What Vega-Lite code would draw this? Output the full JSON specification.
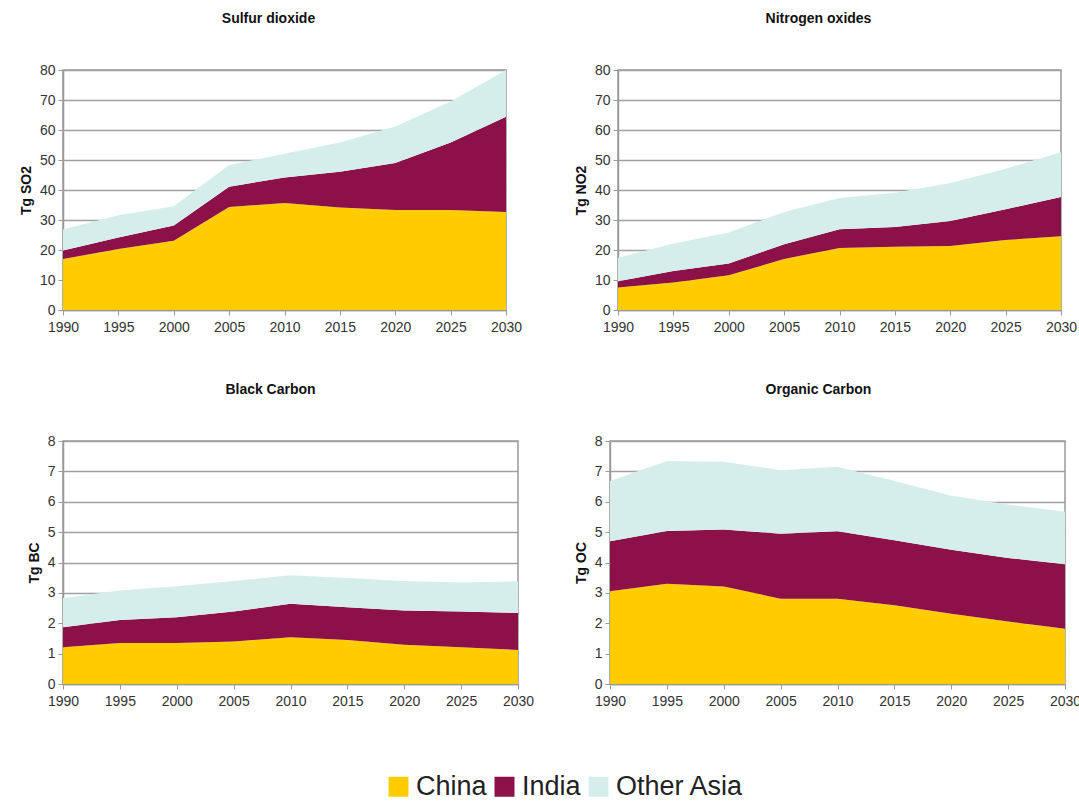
{
  "$schema": "https://vega.github.io/schema/vega-lite/v6.json",
  "background": "white",
  "padding": {"left": 18, "top": 11, "right": 5, "bottom": 5},
  "datasets": {
    "em": [
      {"p": "SO2", "year": 1990, "region": "China", "value": 17.0},
      {"p": "SO2", "year": 1995, "region": "China", "value": 20.3},
      {"p": "SO2", "year": 2000, "region": "China", "value": 23.1},
      {"p": "SO2", "year": 2005, "region": "China", "value": 34.3},
      {"p": "SO2", "year": 2010, "region": "China", "value": 35.7},
      {"p": "SO2", "year": 2015, "region": "China", "value": 34.2},
      {"p": "SO2", "year": 2020, "region": "China", "value": 33.3},
      {"p": "SO2", "year": 2025, "region": "China", "value": 33.3},
      {"p": "SO2", "year": 2030, "region": "China", "value": 32.7},
      {"p": "SO2", "year": 1990, "region": "India", "value": 2.8},
      {"p": "SO2", "year": 1995, "region": "India", "value": 3.9},
      {"p": "SO2", "year": 2000, "region": "India", "value": 5.1},
      {"p": "SO2", "year": 2005, "region": "India", "value": 6.8},
      {"p": "SO2", "year": 2010, "region": "India", "value": 8.5},
      {"p": "SO2", "year": 2015, "region": "India", "value": 11.9},
      {"p": "SO2", "year": 2020, "region": "India", "value": 15.7},
      {"p": "SO2", "year": 2025, "region": "India", "value": 22.5},
      {"p": "SO2", "year": 2030, "region": "India", "value": 31.7},
      {"p": "SO2", "year": 1990, "region": "Other Asia", "value": 7.0},
      {"p": "SO2", "year": 1995, "region": "Other Asia", "value": 7.4},
      {"p": "SO2", "year": 2000, "region": "Other Asia", "value": 6.4},
      {"p": "SO2", "year": 2005, "region": "Other Asia", "value": 7.2},
      {"p": "SO2", "year": 2010, "region": "Other Asia", "value": 7.9},
      {"p": "SO2", "year": 2015, "region": "Other Asia", "value": 9.7},
      {"p": "SO2", "year": 2020, "region": "Other Asia", "value": 12.2},
      {"p": "SO2", "year": 2025, "region": "Other Asia", "value": 13.7},
      {"p": "SO2", "year": 2030, "region": "Other Asia", "value": 15.6},

      {"p": "NO2", "year": 1990, "region": "China", "value": 7.5},
      {"p": "NO2", "year": 1995, "region": "China", "value": 9.2},
      {"p": "NO2", "year": 2000, "region": "China", "value": 11.6},
      {"p": "NO2", "year": 2005, "region": "China", "value": 17.0},
      {"p": "NO2", "year": 2010, "region": "China", "value": 20.7},
      {"p": "NO2", "year": 2015, "region": "China", "value": 21.1},
      {"p": "NO2", "year": 2020, "region": "China", "value": 21.3},
      {"p": "NO2", "year": 2025, "region": "China", "value": 23.3},
      {"p": "NO2", "year": 2030, "region": "China", "value": 24.6},
      {"p": "NO2", "year": 1990, "region": "India", "value": 2.1},
      {"p": "NO2", "year": 1995, "region": "India", "value": 3.8},
      {"p": "NO2", "year": 2000, "region": "India", "value": 3.9},
      {"p": "NO2", "year": 2005, "region": "India", "value": 4.9},
      {"p": "NO2", "year": 2010, "region": "India", "value": 6.2},
      {"p": "NO2", "year": 2015, "region": "India", "value": 6.6},
      {"p": "NO2", "year": 2020, "region": "India", "value": 8.4},
      {"p": "NO2", "year": 2025, "region": "India", "value": 10.3},
      {"p": "NO2", "year": 2030, "region": "India", "value": 13.1},
      {"p": "NO2", "year": 1990, "region": "Other Asia", "value": 7.8},
      {"p": "NO2", "year": 1995, "region": "Other Asia", "value": 9.2},
      {"p": "NO2", "year": 2000, "region": "Other Asia", "value": 10.3},
      {"p": "NO2", "year": 2005, "region": "Other Asia", "value": 10.8},
      {"p": "NO2", "year": 2010, "region": "Other Asia", "value": 10.4},
      {"p": "NO2", "year": 2015, "region": "Other Asia", "value": 11.4},
      {"p": "NO2", "year": 2020, "region": "Other Asia", "value": 12.6},
      {"p": "NO2", "year": 2025, "region": "Other Asia", "value": 13.5},
      {"p": "NO2", "year": 2030, "region": "Other Asia", "value": 14.9},

      {"p": "BC", "year": 1990, "region": "China", "value": 1.21},
      {"p": "BC", "year": 1995, "region": "China", "value": 1.35},
      {"p": "BC", "year": 2000, "region": "China", "value": 1.35},
      {"p": "BC", "year": 2005, "region": "China", "value": 1.40},
      {"p": "BC", "year": 2010, "region": "China", "value": 1.54},
      {"p": "BC", "year": 2015, "region": "China", "value": 1.45},
      {"p": "BC", "year": 2020, "region": "China", "value": 1.29},
      {"p": "BC", "year": 2025, "region": "China", "value": 1.21},
      {"p": "BC", "year": 2030, "region": "China", "value": 1.12},
      {"p": "BC", "year": 1990, "region": "India", "value": 0.66},
      {"p": "BC", "year": 1995, "region": "India", "value": 0.76},
      {"p": "BC", "year": 2000, "region": "India", "value": 0.85},
      {"p": "BC", "year": 2005, "region": "India", "value": 0.99},
      {"p": "BC", "year": 2010, "region": "India", "value": 1.10},
      {"p": "BC", "year": 2015, "region": "India", "value": 1.08},
      {"p": "BC", "year": 2020, "region": "India", "value": 1.13},
      {"p": "BC", "year": 2025, "region": "India", "value": 1.18},
      {"p": "BC", "year": 2030, "region": "India", "value": 1.22},
      {"p": "BC", "year": 1990, "region": "Other Asia", "value": 0.96},
      {"p": "BC", "year": 1995, "region": "Other Asia", "value": 0.97},
      {"p": "BC", "year": 2000, "region": "Other Asia", "value": 1.02},
      {"p": "BC", "year": 2005, "region": "Other Asia", "value": 1.00},
      {"p": "BC", "year": 2010, "region": "Other Asia", "value": 0.94},
      {"p": "BC", "year": 2015, "region": "Other Asia", "value": 0.96},
      {"p": "BC", "year": 2020, "region": "Other Asia", "value": 0.97},
      {"p": "BC", "year": 2025, "region": "Other Asia", "value": 0.95},
      {"p": "BC", "year": 2030, "region": "Other Asia", "value": 1.04},

      {"p": "OC", "year": 1990, "region": "China", "value": 3.05},
      {"p": "OC", "year": 1995, "region": "China", "value": 3.30},
      {"p": "OC", "year": 2000, "region": "China", "value": 3.21},
      {"p": "OC", "year": 2005, "region": "China", "value": 2.81},
      {"p": "OC", "year": 2010, "region": "China", "value": 2.81},
      {"p": "OC", "year": 2015, "region": "China", "value": 2.59},
      {"p": "OC", "year": 2020, "region": "China", "value": 2.31},
      {"p": "OC", "year": 2025, "region": "China", "value": 2.06},
      {"p": "OC", "year": 2030, "region": "China", "value": 1.82},
      {"p": "OC", "year": 1990, "region": "India", "value": 1.65},
      {"p": "OC", "year": 1995, "region": "India", "value": 1.74},
      {"p": "OC", "year": 2000, "region": "India", "value": 1.88},
      {"p": "OC", "year": 2005, "region": "India", "value": 2.14},
      {"p": "OC", "year": 2010, "region": "India", "value": 2.22},
      {"p": "OC", "year": 2015, "region": "India", "value": 2.14},
      {"p": "OC", "year": 2020, "region": "India", "value": 2.11},
      {"p": "OC", "year": 2025, "region": "India", "value": 2.09},
      {"p": "OC", "year": 2030, "region": "India", "value": 2.12},
      {"p": "OC", "year": 1990, "region": "Other Asia", "value": 1.98},
      {"p": "OC", "year": 1995, "region": "Other Asia", "value": 2.30},
      {"p": "OC", "year": 2000, "region": "Other Asia", "value": 2.23},
      {"p": "OC", "year": 2005, "region": "Other Asia", "value": 2.09},
      {"p": "OC", "year": 2010, "region": "Other Asia", "value": 2.12},
      {"p": "OC", "year": 2015, "region": "Other Asia", "value": 1.95},
      {"p": "OC", "year": 2020, "region": "Other Asia", "value": 1.78},
      {"p": "OC", "year": 2025, "region": "Other Asia", "value": 1.76},
      {"p": "OC", "year": 2030, "region": "Other Asia", "value": 1.73}
    ]
  },
  "spacing": 47,
  "vconcat": [
    {
      "bounds": "flush",
      "spacing": 112,
      "hconcat": [
        {
          "width": 443, "height": 240,
          "title": {"text": "Sulfur dioxide", "dx": -16},
          "data": {"name": "em"},
          "transform": [{"filter": "datum.p === 'SO2'"}],
          "mark": {"type": "area", "interpolate": "linear", "clip": true},
          "encoding": {
            "x": {"field": "year", "type": "quantitative", "scale": {"domain": [1990, 2030], "nice": false, "zero": false}, "axis": {"values": [1990,1995,2000,2005,2010,2015,2020,2025,2030], "format": "d", "title": null}},
            "y": {"field": "value", "type": "quantitative", "stack": "zero", "scale": {"domain": [0, 80], "nice": false}, "axis": {"values": [0,10,20,30,40,50,60,70,80], "title": "Tg SO2"}},
            "color": {"field": "region", "type": "nominal", "scale": {"domain": ["China", "India", "Other Asia"], "range": ["#FFCC00", "#8C1148", "#D5EEEC"]}, "legend": {"orient": "none", "legendX": 322, "legendY": 703, "direction": "horizontal", "title": null}},
            "order": {"field": "region", "sort": "ascending"}
          }
        },
        {
          "width": 443, "height": 240,
          "title": {"text": "Nitrogen oxides", "dx": -21},
          "data": {"name": "em"},
          "transform": [{"filter": "datum.p === 'NO2'"}],
          "mark": {"type": "area", "interpolate": "linear", "clip": true},
          "encoding": {
            "x": {"field": "year", "type": "quantitative", "scale": {"domain": [1990, 2030], "nice": false, "zero": false}, "axis": {"values": [1990,1995,2000,2005,2010,2015,2020,2025,2030], "format": "d", "title": null}},
            "y": {"field": "value", "type": "quantitative", "stack": "zero", "scale": {"domain": [0, 80], "nice": false}, "axis": {"values": [0,10,20,30,40,50,60,70,80], "title": "Tg NO2"}},
            "color": {"field": "region", "type": "nominal"},
            "order": {"field": "region", "sort": "ascending"}
          }
        }
      ]
    },
    {
      "bounds": "flush",
      "spacing": 92,
      "hconcat": [
        {
          "width": 455, "height": 243,
          "title": {"text": "Black Carbon", "dx": -20},
          "data": {"name": "em"},
          "transform": [{"filter": "datum.p === 'BC'"}],
          "mark": {"type": "area", "interpolate": "linear", "clip": true},
          "encoding": {
            "x": {"field": "year", "type": "quantitative", "scale": {"domain": [1990, 2030], "nice": false, "zero": false}, "axis": {"values": [1990,1995,2000,2005,2010,2015,2020,2025,2030], "format": "d", "title": null}},
            "y": {"field": "value", "type": "quantitative", "stack": "zero", "scale": {"domain": [0, 8], "nice": false}, "axis": {"values": [0,1,2,3,4,5,6,7,8], "title": "Tg BC"}},
            "color": {"field": "region", "type": "nominal"},
            "order": {"field": "region", "sort": "ascending"}
          }
        },
        {
          "width": 455, "height": 243,
          "title": {"text": "Organic Carbon", "dx": -19},
          "data": {"name": "em"},
          "transform": [{"filter": "datum.p === 'OC'"}],
          "mark": {"type": "area", "interpolate": "linear", "clip": true},
          "encoding": {
            "x": {"field": "year", "type": "quantitative", "scale": {"domain": [1990, 2030], "nice": false, "zero": false}, "axis": {"values": [1990,1995,2000,2005,2010,2015,2020,2025,2030], "format": "d", "title": null}},
            "y": {"field": "value", "type": "quantitative", "stack": "zero", "scale": {"domain": [0, 8], "nice": false}, "axis": {"values": [0,1,2,3,4,5,6,7,8], "title": "Tg OC"}},
            "color": {"field": "region", "type": "nominal"},
            "order": {"field": "region", "sort": "ascending"}
          }
        }
      ]
    }
  ],
  "config": {
    "font": "Liberation Sans",
    "view": {"stroke": "#9a9a9a", "strokeWidth": 1.5},
    "title": {"fontSize": 14, "fontWeight": "bold", "color": "#111", "anchor": "middle", "offset": 37, "font": "Liberation Sans"},
    "axis": {
      "labelFont": "Liberation Sans",
      "labelFontSize": 14,
      "labelColor": "#333",
      "titleFont": "Liberation Sans",
      "titleFontSize": 14,
      "titleFontWeight": "bold",
      "titleColor": "#111",
      "domainColor": "#9a9a9a",
      "domainWidth": 1.5,
      "tickColor": "#9a9a9a",
      "tickSize": 5,
      "gridColor": "#a0a0a0",
      "gridWidth": 1.5
    },
    "axisY": {"grid": true, "labelPadding": 3, "titlePadding": 6},
    "axisX": {"grid": false, "labelPadding": 5, "labelFlush": false},
    "legend": {
      "symbolType": "square",
      "symbolSize": 400,
      "symbolStrokeWidth": 0,
      "symbolOpacity": 1,
      "labelFontSize": 27,
      "labelFont": "Liberation Sans",
      "labelColor": "#222",
      "labelOffset": 4,
      "columnPadding": 4
    }
  }
}
